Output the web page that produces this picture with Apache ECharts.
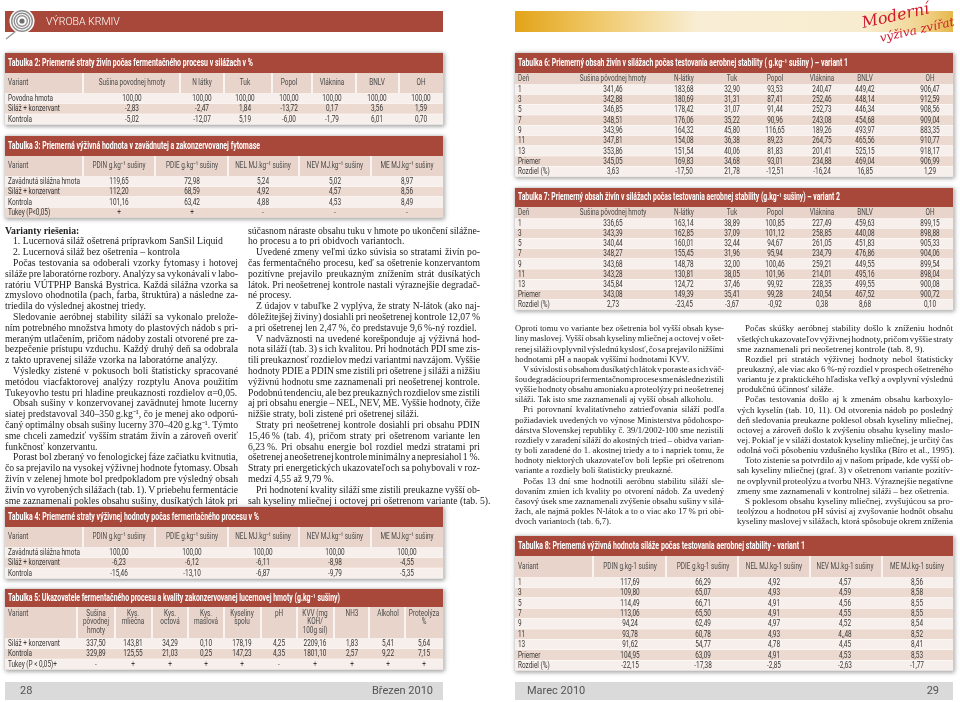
<!DOCTYPE html>
<html><head><meta charset="utf-8">
<script src="https://cdn.jsdelivr.net/npm/echarts@6/dist/echarts.min.js"></script>
<style>html,body{margin:0;padding:0;background:#fff}#c{width:960px;height:702px}</style>
</head><body><div id="c"></div>
<script>
// ---------------- DATA ----------------
const headerLeft = 'VÝROBA KRMIV';
const logoLines = ['Moderní', 'výživa zvířat'];
const footerLeft = ['28', 'Březen 2010'];
const footerRight = ['Marec 2010', '29'];

const t2Title = 'Tabulka 2: Priemerné straty živín počas fermentačného procesu v silážach v %';
const t2Head = ['Variant', 'Sušina povodnej hmoty', 'N látky', 'Tuk', 'Popol', 'Vláknina', 'BNLV', 'OH'];
const t2Rows = [
  ['Povodna hmota', '100,00', '100,00', '100,00', '100,00', '100,00', '100,00', '100,00'],
  ['Siláž + konzervant', '-2,83', '-2,47', '1,84', '-13,72', '0,17', '3,56', '1,59'],
  ['Kontrola', '-5,02', '-12,07', '5,19', '-6,00', '-1,79', '6,01', '0,70']
];

const t3Title = 'Tabulka 3: Priemerná výživná hodnota v zavädnutej a zakonzervovanej fytomase';
const t3Head = ['Variant', 'PDIN g.kg⁻¹ sušiny', 'PDIE g.kg⁻¹ sušiny', 'NEL MJ.kg⁻¹ sušiny', 'NEV MJ.kg⁻¹ sušiny', 'ME MJ.kg⁻¹ sušiny'];
const t3Rows = [
  ['Zavädnutá silážna hmota', '119,65', '72,98', '5,24', '5,02', '8,97'],
  ['Siláž + konzervant', '112,20', '68,59', '4,92', '4,57', '8,56'],
  ['Kontrola', '101,16', '63,42', '4,88', '4,53', '8,49'],
  ['Tukey (P<0,05)', '+', '+', '-', '-', '-']
];

const t4Title = 'Tabulka 4: Priemerné straty výživnej hodnoty počas fermentačného procesu v %';
const t4Head = ['Variant', 'PDIN g.kg⁻¹ sušiny', 'PDIE g.kg⁻¹ sušiny', 'NEL MJ.kg⁻¹ sušiny', 'NEV MJ.kg⁻¹ sušiny', 'ME MJ.kg⁻¹ sušiny'];
const t4Rows = [
  ['Zavädnutá silážna hmota', '100,00', '100,00', '100,00', '100,00', '100,00'],
  ['Siláž + konzervant', '-6,23', '-6,12', '-6,11', '-8,98', '-4,55'],
  ['Kontrola', '-15,46', '-13,10', '-6,87', '-9,79', '-5,35']
];

const t5Title = 'Tabulka 5: Ukazovatele fermentačného procesu a kvality zakonzervovanej lucernovej hmoty (g.kg⁻¹ sušiny)';
const t5Head = ['Variant', 'Sušina\npôvodnej\nhmoty', 'Kys.\nmliečna', 'Kys.\noctová', 'Kys.\nmaslová', 'Kyseliny\nspolu', 'pH', 'KVV (mg\nKOH/\n100g sil)', 'NH3', 'Alkohol', 'Proteolýza\n%'];
const t5Rows = [
  ['Siláž + konzervant', '337,50', '143,81', '34,29', '0,10', '178,19', '4,25', '2209,16', '1,83', '5,41', '5,64'],
  ['Kontrola', '329,89', '125,55', '21,03', '0,25', '147,23', '4,35', '1801,10', '2,57', '9,22', '7,15'],
  ['Tukey (P < 0,05)+', '-', '+', '+', '+', '+', '-', '+', '+', '+', '+']
];

const t6Title = 'Tabulka 6: Priemerný obsah živín v silážach počas testovania aerobnej stability ( g.kg⁻¹ sušiny ) – variant 1';
const t6Head = ['Deň', 'Sušina pôvodnej hmoty', 'N-látky', 'Tuk', 'Popol', 'Vláknina', 'BNLV', 'OH'];
const t6Rows = [
  ['1', '341,46', '183,68', '32,90', '93,53', '240,47', '449,42', '906,47'],
  ['3', '342,88', '180,69', '31,31', '87,41', '252,46', '448,14', '912,59'],
  ['5', '346,85', '178,42', '31,07', '91,44', '252,73', '446,34', '908,56'],
  ['7', '348,51', '176,06', '35,22', '90,96', '243,08', '454,68', '909,04'],
  ['9', '343,96', '164,32', '45,80', '116,65', '189,26', '493,97', '883,35'],
  ['11', '347,81', '154,08', '36,38', '89,23', '264,75', '465,56', '910,77'],
  ['13', '353,86', '151,54', '40,06', '81,83', '201,41', '525,15', '918,17'],
  ['Priemer', '345,05', '169,83', '34,68', '93,01', '234,88', '469,04', '906,99'],
  ['Rozdiel (%)', '3,63', '-17,50', '21,78', '-12,51', '-16,24', '16,85', '1,29']
];

const t7Title = 'Tabulka 7: Priemerný obsah živín v silážach počas testovania aerobnej stability (g.kg⁻¹ sušiny) – variant 2';
const t7Head = ['Deň', 'Sušina pôvodnej hmoty', 'N-látky', 'Tuk', 'Popol', 'Vláknina', 'BNLV', 'OH'];
const t7Rows = [
  ['1', '336,65', '163,14', '38,89', '100,85', '227,49', '459,63', '899,15'],
  ['3', '343,39', '162,85', '37,09', '101,12', '258,85', '440,08', '898,88'],
  ['5', '340,44', '160,01', '32,44', '94,67', '261,05', '451,83', '905,33'],
  ['7', '348,27', '155,45', '31,96', '95,94', '234,79', '476,86', '904,06'],
  ['9', '343,68', '148,78', '32,00', '100,46', '259,21', '449,55', '899,54'],
  ['11', '343,28', '130,81', '38,05', '101,96', '214,01', '495,16', '898,04'],
  ['13', '345,84', '124,72', '37,46', '99,92', '228,35', '499,55', '900,08'],
  ['Priemer', '343,08', '149,39', '35,41', '99,28', '240,54', '467,52', '900,72'],
  ['Rozdiel (%)', '2,73', '-23,45', '-3,67', '-0,92', '0,38', '8,68', '0,10']
];

const t8Title = 'Tabulka 8: Priemerná výživná hodnota siláže počas testovania aerobnej stability - variant 1';
const t8Head = ['Variant', 'PDIN g.kg-1 sušiny', 'PDIE g.kg-1 sušiny', 'NEL MJ.kg-1 sušiny', 'NEV MJ.kg-1 sušiny', 'ME MJ.kg-1 sušiny'];
const t8Rows = [
  ['1', '117,69', '66,29', '4,92', '4,57', '8,56'],
  ['3', '109,80', '65,07', '4,93', '4,59', '8,58'],
  ['5', '114,49', '66,71', '4,91', '4,56', '8,55'],
  ['7', '113,06', '65,50', '4,91', '4,55', '8,55'],
  ['9', '94,24', '62,49', '4,97', '4,52', '8,54'],
  ['11', '93,78', '60,78', '4,93', '4,,48', '8,52'],
  ['13', '91,62', '54,77', '4,78', '4,45', '8,41'],
  ['Priemer', '104,95', '63,09', '4,91', '4,53', '8,53'],
  ['Rozdiel (%)', '-22,15', '-17,38', '-2,85', '-2,63', '-1,77']
];

const textL1 = [
  ['Varianty riešenia:'],
  ['1. Lucernová siláž ošetrená prípravkom SanSil Liquid'],
  ['2. Lucernová siláž bez ošetrenia – kontrola'],
  ['Počas testovania sa odoberali vzorky fytomasy i hotovej', 'siláže pre laboratórne rozbory. Analýzy sa vykonávali v labo-', 'ratóriu VÚTPHP Banská Bystrica. Každá silážna vzorka sa', 'zmyslovo ohodnotila (pach, farba, štruktúra) a následne za-', 'triedila do výslednej akostnej triedy.'],
  ['Sledovanie aeróbnej stability siláží sa vykonalo prelože-', 'ním potrebného množstva hmoty do plastových nádob s pri-', 'meraným utlačením, pričom nádoby zostali otvorené pre za-', 'bezpečenie prístupu vzduchu. Každý druhý deň sa odobrala', 'z takto upravenej siláže vzorka na laboratórne analýzy.'],
  ['Výsledky zistené v pokusoch boli štatisticky spracované', 'metódou viacfaktorovej analýzy rozptylu Anova použitím', 'Tukeyovho testu pri hladine preukaznosti rozdielov α=0,05.'],
  ['Obsah sušiny v konzervovanej zavädnutej hmote lucerny', 'siatej predstavoval 340–350\u2009g.kg⁻¹, čo je menej ako odporú-', 'čaný optimálny obsah sušiny lucerny 370–420\u2009g.kg⁻¹. Týmto', 'sme chceli zamedziť vyšším stratám živín a zároveň overiť', 'funkčnosť konzervantu.'],
  ['Porast bol zberaný vo fenologickej fáze začiatku kvitnutia,', 'čo sa prejavilo na vysokej výživnej hodnote fytomasy. Obsah', 'živín v zelenej hmote bol predpokladom pre výsledný obsah', 'živín vo vyrobených silážach (tab. 1). V priebehu fermentácie', 'sme zaznamenali pokles obsahu sušiny, dusíkatých látok pri']
];
const textL2 = [
  ['súčasnom náraste obsahu tuku v hmote po ukončení silážne-', 'ho procesu a to pri obidvoch variantoch.'],
  ['Uvedené zmeny veľmi úzko súvisia so stratami živín po-', 'čas fermentačného procesu, keď sa ošetrenie konzervantom', 'pozitívne prejavilo preukazným znížením strát dusíkatých', 'látok. Pri neošetrenej kontrole nastali výraznejšie degradač-', 'né procesy.'],
  ['Z údajov v tabuľke 2 vyplýva, že straty N-látok (ako naj-', 'dôležitejšej živiny) dosiahli pri neošetrenej kontrole 12,07\u2009%', 'a pri ošetrenej len 2,47\u2009%, čo predstavuje 9,6\u2009%-ný rozdiel.'],
  ['V nadväznosti na uvedené korešponduje aj výživná hod-', 'nota siláží (tab. 3) s ich kvalitou. Pri hodnotách PDI sme zis-', 'tili preukaznosť rozdielov medzi variantmi navzájom. Vyššie', 'hodnoty PDIE a PDIN sme zistili pri ošetrene j siláži a nižšiu', 'výživnú hodnotu sme zaznamenali pri neošetrenej kontrole.', 'Podobnú tendenciu, ale bez preukazných rozdielov sme zistili', 'aj pri obsahu energie – NEL, NEV, ME. Vyššie hodnoty, čiže', 'nižšie straty, boli zistené pri ošetrenej siláži.'],
  ['Straty pri neošetrenej kontrole dosiahli pri obsahu PDIN', '15,46\u2009% (tab. 4), pričom straty pri ošetrenom variante len', '6,23\u2009%. Pri obsahu energie bol rozdiel medzi stratami pri', 'ošetrenej a neošetrenej kontrole minimálny a nepresiahol 1\u2009%.', 'Straty pri energetických ukazovateľoch sa pohybovali v roz-', 'medzí 4,55 až 9,79\u2009%.'],
  ['Pri hodnotení kvality siláží sme zistili preukazne vyšší ob-', 'sah kyseliny mliečnej i octovej pri ošetrenom variante (tab. 5).']
];
const textR1 = [
  ['Oproti tomu vo variante bez ošetrenia bol vyšší obsah kyse-', 'liny maslovej. Vyšší obsah kyseliny mliečnej a octovej v ošet-', 'renej siláži ovplyvnil výslednú kyslosť, čo sa prejavilo nižšími', 'hodnotami pH a naopak vyššími hodnotami KVV.'],
  ['V súvislosti s obsahom dusíkatých látok v poraste a s ich väč-', 'šou degradáciou pri fermentačnom procese sme následne zistili', 'vyššie hodnoty obsahu amoniaku a proteolýzy pri neošetrenej', 'siláži. Tak isto sme zaznamenali aj vyšší obsah alkoholu.'],
  ['Pri porovnaní kvalitatívneho zatrieďovania siláží podľa', 'požiadaviek uvedených vo výnose Ministerstva pôdohospo-', 'dárstva Slovenskej republiky č. 39/1/2002-100 sme nezistili', 'rozdiely v zaradení siláží do akostných tried – obidva varian-', 'ty boli zaradené do 1. akostnej triedy a to i napriek tomu, že', 'hodnoty niektorých ukazovateľov boli lepšie pri ošetrenom', 'variante a rozdiely boli štatisticky preukazné.'],
  ['Počas 13 dní sme hodnotili aeróbnu stabilitu siláží sle-', 'dovaním zmien ich kvality po otvorení nádob. Za uvedený', 'časový úsek sme zaznamenali zvýšenie obsahu sušiny v silá-', 'žach, ale najmä pokles N-látok a to o viac ako 17\u2009% pri obi-', 'dvoch variantoch (tab. 6,7).']
];
const textR2 = [
  ['Počas skúšky aeróbnej stability došlo k zníženiu hodnôt', 'všetkých ukazovateľov výživnej hodnoty, pričom vyššie straty', 'sme zaznamenali pri neošetrenej kontrole (tab. 8, 9).'],
  ['Rozdiel pri stratách výživnej hodnoty nebol štatisticky', 'preukazný, ale viac ako 6\u2009%-ný rozdiel v prospech ošetreného', 'variantu je z praktického hľadiska veľký a ovplyvní výslednú', 'produkčnú účinnosť siláže.'],
  ['Počas testovania došlo aj k zmenám obsahu karboxylo-', 'vých kyselín (tab. 10, 11). Od otvorenia nádob po posledný', 'deň sledovania preukazne poklesol obsah kyseliny mliečnej,', 'octovej a zároveň došlo k zvýšeniu obsahu kyseliny maslo-', 'vej. Pokiaľ je v siláži dostatok kyseliny mliečnej, je určitý čas', 'odolná voči pôsobeniu vzdušného kyslíka (Bíro et al., 1995).'],
  ['Toto zistenie sa potvrdilo aj v našom prípade, kde vyšší ob-', 'sah kyseliny mliečnej (graf. 3) v ošetrenom variante pozitív-', 'ne ovplyvnil proteolýzu a tvorbu NH3. Výraznejšie negatívne', 'zmeny sme zaznamenali v kontrolnej siláži – bez ošetrenia.'],
  ['S poklesom obsahu kyseliny mliečnej, zvyšujúcou sa pro-', 'teolýzou a hodnotou pH súvisí aj zvyšovanie hodnôt obsahu', 'kyseliny maslovej v silážach, ktorá spôsobuje okrem zníženia']
];

// ---------------- LAYOUT / STYLE ----------------
const C = { red: '#a8483b', head: '#e8d4ca', light: '#f7efeb', dark: '#ecd9d0', txt: '#363636', body: '#222' };
const SANS = 'Roboto', SERIF = 'Liberation Serif';
const BODY_FS = 9.5, TITLE_FS = 10;
const mctx = document.createElement('canvas').getContext('2d');
function tw(t, size, fam, weight) { mctx.font = (weight || 'normal') + ' ' + size + 'px ' + fam; return mctx.measureText(t).width; }
const bodyScale = 72 / tw('Zavädnutá silážna hmota', BODY_FS, SANS);

const els = [];
function txt(t, x, y, o) {
  o = o || {};
  els.push({
    type: 'text', x: x, y: y, silent: true, scaleX: o.sx || 1, rotation: o.rot || 0, z: 10,
    style: { text: t, fill: o.fill || C.txt, fontSize: o.size || BODY_FS, fontFamily: o.fam || SANS,
      fontWeight: o.weight || 'normal', fontStyle: o.style || 'normal', align: o.align || 'left', verticalAlign: 'middle' }
  });
}
function rect(x, y, w, h, fill, extra) {
  els.push({ type: 'rect', silent: true, shape: { x: x, y: y, width: w, height: h }, style: Object.assign({ fill: fill }, extra || {}) });
}

function table(o) {
  const nRows = o.rows.length;
  const hy0 = o.ty + o.th, ry0 = hy0 + o.hh, bottom = ry0 + nRows * o.rh;
  rect(o.x0, o.ty, o.x1 - o.x0, bottom - o.ty, '#fff', { shadowBlur: 4, shadowColor: 'rgba(0,0,0,0.35)', shadowOffsetX: 1, shadowOffsetY: 1, stroke: '#d6d6d6', lineWidth: 1 });
  rect(o.x0, o.ty, o.x1 - o.x0, o.th, C.red);
  const tsx = o.titleW / tw(o.title, TITLE_FS, SANS, 'bold');
  txt(o.title, o.x0 + 3, o.ty + o.th / 2, { fill: '#fff', weight: 'bold', size: TITLE_FS, sx: tsx });
  rect(o.x0, hy0, o.x1 - o.x0, o.hh, C.head);
  if (o.seps) o.seps.forEach(s => rect(s - 0.75, hy0, 1.5, o.hh, '#fff'));
  o.head.forEach((h, i) => {
    const lines = h.split('\n');
    lines.forEach((ln, k) => {
      const y = o.headTop ? hy0 + 6.5 + k * 8.6 : hy0 + o.hh / 2 + (k - (lines.length - 1) / 2) * 8.6;
      txt(ln, i === 0 ? o.x0 + 3 : o.cx[i - 1], y, { align: i === 0 ? 'left' : 'center', sx: bodyScale, fill: '#4a4a4a' });
    });
  });
  o.rows.forEach((r, ri) => {
    const y = ry0 + ri * o.rh;
    rect(o.x0, y, o.x1 - o.x0, o.rh, ri % 2 === 0 ? C.light : C.dark);
    if (ri > 0) rect(o.x0, y - 0.25, o.x1 - o.x0, 0.5, '#fff');
    r.forEach((v, ci) => txt(v, ci === 0 ? o.x0 + 3 : o.cx[ci - 1], y + o.rh / 2 + 0.3, { align: ci === 0 ? 'left' : 'center', sx: bodyScale }));
  });
}

function column(paras, x0, x1, y0, dy, opts) {
  opts = opts || {};
  const ind = 8, base = 10, ratios = [];
  const info = [];
  paras.forEach((p, pi) => p.forEach((ln, li) => {
    const heading = opts.heading && pi === 0;
    const indent = (li === 0 && !heading && !(pi === 0 && opts.noIndentFirst)) ? ind : 0;
    const last = li === p.length - 1 && !(opts.cont && pi === paras.length - 1);
    info.push({ ln: ln, indent: indent, last: last || heading, bold: heading });
    if (!last && !heading) ratios.push((x1 - x0 - indent) / tw(ln, base, SERIF));
  }));
  ratios.sort((a, b) => a - b);
  const fs = base * ratios[Math.floor(ratios.length / 2)];
  info.forEach((L, i) => {
    const y = y0 + i * dy;
    const w = L.bold ? 'bold' : 'normal';
    const words = L.ln.split(' ');
    const ws = words.map(t => tw(t, fs, SERIF, w));
    const sp = tw(' ', fs, SERIF, w);
    const tot = ws.reduce((a, b) => a + b, 0);
    const gap = (!L.last && words.length > 1) ? (x1 - x0 - L.indent - tot) / (words.length - 1) : sp;
    let x = x0 + L.indent;
    words.forEach((t, k) => { txt(t, x, y, { fam: SERIF, size: fs, fill: C.body, weight: w }); x += ws[k] + gap; });
  });
}

// ---- page headers ----
rect(5, 11, 438, 21, C.red);
els.push({ type: 'bezierCurve', silent: true, shape: { x1: 16, y1: 31, x2: 6, y2: 39, cpx1: 10, cpy1: 36 }, style: { stroke: '#9a9a9a', lineWidth: 1.5, fill: null } });
els.push({ type: 'circle', silent: true, shape: { cx: 22, cy: 21, r: 12.5 }, style: { fill: '#fff' } });
[10.3, 7.8, 5.3].forEach(r => els.push({ type: 'circle', silent: true, shape: { cx: 22, cy: 21, r: r }, style: { fill: null, stroke: '#8f8f8f', lineWidth: 1.4 } }));
els.push({ type: 'circle', silent: true, shape: { cx: 22, cy: 21, r: 2.6 }, style: { fill: '#6f6f6f' } });
txt(headerLeft, 46, 22, { fill: '#fff', size: 10.5, fam: 'Roboto', weight: 300 });

rect(515, 11, 438, 21, new echarts.graphic.LinearGradient(0, 0, 1, 0, [
  { offset: 0, color: '#e3a318' }, { offset: 0.18, color: '#efc766' }, { offset: 0.42, color: '#f9eed5' },
  { offset: 0.8, color: '#f8eccf' }, { offset: 0.93, color: '#f0d48e' }, { offset: 1, color: '#e6b84c' }]));
txt(logoLines[0], 862, 24, { fam: 'DejaVu Serif', style: 'italic', size: 16, fill: '#cf1a2e', rot: 0.22 });
txt(logoLines[1], 880, 39, { fam: 'DejaVu Serif', style: 'italic', size: 12, fill: '#cf1a2e', rot: 0.22 });

// ---- tables ----
const sepA = [83, 155, 228, 299, 371], cxA = [119, 192, 263, 335, 407];
const cxR = [613, 684, 732, 775, 822, 865, 930];
table({ title: t2Title, titleW: 245, head: t2Head, rows: t2Rows, x0: 5, x1: 443, ty: 53, th: 20, hh: 20, rh: 10.5, seps: [83, 180, 224, 272, 312, 356, 399], cx: [132, 202, 245, 289, 332, 377, 421] });
table({ title: t3Title, titleW: 252, head: t3Head, rows: t3Rows, x0: 5, x1: 443, ty: 136, th: 20, hh: 20, rh: 10.4, seps: sepA, cx: cxA });
table({ title: t4Title, titleW: 251, head: t4Head, rows: t4Rows, x0: 5, x1: 443, ty: 507, th: 20, hh: 20, rh: 10.5, seps: sepA, cx: cxA });
table({ title: t5Title, titleW: 332, head: t5Head, rows: t5Rows, x0: 5, x1: 443, ty: 589, th: 18, hh: 31, rh: 10.5, headTop: true,
  seps: [77, 115, 152, 188, 224, 261, 297, 334, 369, 405], cx: [96, 133, 170, 206, 242, 279, 315, 352, 388, 424] });
table({ title: t6Title, titleW: 330, head: t6Head, rows: t6Rows, x0: 515, x1: 953, ty: 53, th: 20, hh: 11, rh: 10.3, seps: null, cx: cxR });
table({ title: t7Title, titleW: 322, head: t7Head, rows: t7Rows, x0: 515, x1: 953, ty: 188, th: 19, hh: 11, rh: 10.2, seps: null, cx: cxR });
table({ title: t8Title, titleW: 287, head: t8Head, rows: t8Rows, x0: 515, x1: 953, ty: 536, th: 20, hh: 21, rh: 10.4, seps: [593, 666, 738, 810, 882], cx: [630, 703, 774, 845, 917] });

// ---- body text ----
column(textL1, 5, 238, 231, 10.8, { heading: true, cont: true });
column(textL2, 248, 480, 231, 10.8, { noIndentFirst: true });
column(textR1, 515, 724, 329, 10.15, { noIndentFirst: true });
column(textR2, 737, 953, 329, 10.15, { cont: true });

// ---- footers ----
rect(5, 682, 438, 18, '#dadada');
txt(footerLeft[0], 20, 691, { size: 11, fill: '#555' });
txt(footerLeft[1], 433, 691, { size: 11, fill: '#555', align: 'right' });
rect(515, 682, 438, 18, '#dadada');
txt(footerRight[0], 527, 691, { size: 11, fill: '#555' });
txt(footerRight[1], 939, 691, { size: 11, fill: '#555', align: 'right' });

const chart = echarts.init(document.getElementById('c'), null, { renderer: 'canvas', width: 960, height: 702 });
chart.setOption({ backgroundColor: '#fff', animation: false, graphic: { elements: els } });
</script>
</body></html>
